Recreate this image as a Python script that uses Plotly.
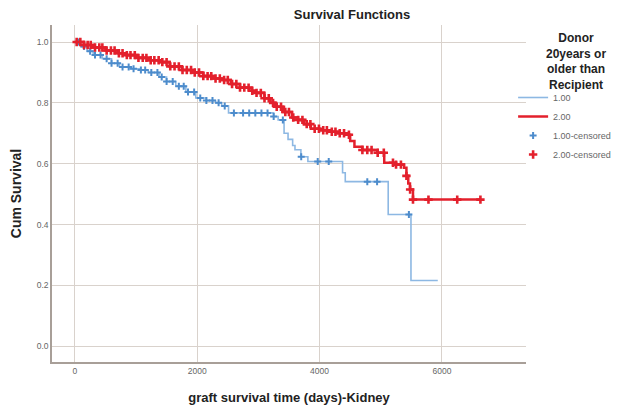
import numpy as np
import plotly.graph_objects as go

# Kaplan-Meier step data (time in days, cumulative survival)
g1_time = [0, 100, 200, 300, 450, 600, 729, 900, 1053, 1200, 1377, 1500, 1650, 1815, 1977,
           2150, 2300, 2400, 2512, 3250, 3323, 3420, 3485, 3560, 3598, 3695, 3809, 4376,
           4420, 5122, 5494, 5932]
g1_surv = [1.0, 0.985, 0.97, 0.957, 0.945, 0.93, 0.918, 0.912, 0.908, 0.9, 0.885, 0.87, 0.855,
           0.836, 0.816, 0.808, 0.80, 0.79, 0.767, 0.755, 0.744, 0.70, 0.68, 0.66, 0.646,
           0.623, 0.607, 0.57, 0.541, 0.433, 0.216, 0.216]

g2_time = [0, 150, 300, 500, 700, 843, 1000, 1200, 1377, 1550, 1750, 1912, 2100, 2250, 2399,
           2550, 2700, 2850, 2950, 3100, 3200, 3274, 3400, 3550, 3647, 3750, 3857, 4000,
           4133, 4300, 4408, 4500, 4570, 4700, 4943, 5057, 5250, 5381, 5420, 5450, 5478,
           5527, 6629]
g2_surv = [1.0, 0.99, 0.982, 0.972, 0.963, 0.957, 0.948, 0.94, 0.934, 0.92, 0.908, 0.90,
           0.888, 0.88, 0.875, 0.862, 0.85, 0.84, 0.833, 0.815, 0.80, 0.787, 0.77, 0.752,
           0.744, 0.73, 0.715, 0.71, 0.705, 0.70, 0.695, 0.675, 0.656, 0.645, 0.636, 0.603,
           0.597, 0.587, 0.56, 0.535, 0.515, 0.482, 0.482]

g1_cens = [60, 150, 250, 330, 420, 520, 600, 700, 780, 880, 960, 1080, 1150, 1250, 1350, 1420,
           1500, 1600, 1700, 1780, 1850, 1950, 2050, 2150, 2250, 2350, 2450, 2600, 2750, 2850,
           2950, 3050, 3150, 3250, 3400, 3700, 3970, 4150, 4780, 4940, 5460]
g2_cens = [30, 90, 150, 210, 260, 330, 400, 450, 520, 590, 650, 720, 780, 850, 910, 980, 1040,
           1110, 1170, 1240, 1300, 1370, 1430, 1500, 1560, 1630, 1700, 1760, 1830, 1900, 1960,
           2030, 2100, 2170, 2230, 2300, 2370, 2440, 2500, 2570, 2640, 2700, 2770, 2840, 2900,
           2970, 3040, 3100, 3170, 3240, 3300, 3370, 3440, 3500, 3570, 3650, 3720, 3790, 3850,
           3920, 3990, 4060, 4120, 4200, 4260, 4330, 4400, 4480, 4700, 4780, 4850, 4950, 5050,
           5200, 5250, 5330, 5420, 5480, 5527, 5780, 6250, 6629]

x_ticks = [0, 2000, 4000, 6000]
y_ticks = [0.0, 0.2, 0.4, 0.6, 0.8, 1.0]
y_tick_labels = ["0.0", "0.2", "0.4", "0.6", "0.8", "1.0"]

legend_title_lines = ["Donor", "20years or", "older than", "Recipient"]
names = ["1.00", "2.00", "1.00-censored", "2.00-censored"]

blue_line = "#8db8e3"
blue_mark = "#4d8ccc"
red = "#e3202c"


def surv_at(times, survs, t):
    idx = np.searchsorted(np.array(times), np.array(t), side="right") - 1
    return list(np.array(survs)[idx])


fig = go.Figure()
fig.add_trace(go.Scatter(x=g1_time, y=g1_surv, mode="lines", line_shape="hv",
                         line=dict(color=blue_line, width=1.6), name=names[0]))
fig.add_trace(go.Scatter(x=g2_time, y=g2_surv, mode="lines", line_shape="hv",
                         line=dict(color=red, width=2.5), name=names[1]))
fig.add_trace(go.Scatter(x=g1_cens, y=surv_at(g1_time, g1_surv, g1_cens), mode="markers",
                         marker=dict(symbol="cross-thin", size=5, line=dict(color=blue_mark, width=2)),
                         name=names[2]))
fig.add_trace(go.Scatter(x=g2_cens, y=surv_at(g2_time, g2_surv, g2_cens), mode="markers",
                         marker=dict(symbol="cross-thin", size=6, line=dict(color=red, width=2.6)),
                         name=names[3]))

# legend title (SPSS style, centered block of bold lines)
fig.add_annotation(text="<b>" + "<br>".join(legend_title_lines) + "</b>",
                   xref="paper", yref="paper", x=(580 - 52) / 478, y=1 - (29 - 25) / 337,
                   xanchor="center", yanchor="top", align="center", showarrow=False,
                   font=dict(size=12, color="#222"))

grid = "#d9d2cc"
axis_line = "#a89f98"
fig.update_layout(
    width=628, height=410,
    margin=dict(l=52, r=98, t=25, b=48),
    paper_bgcolor="white", plot_bgcolor="white",
    font=dict(family="Liberation Sans, Arial, sans-serif", color="#222"),
    title=dict(text="<b>Survival Functions</b>", x=352 / 628, xanchor="center", y=1 - 14 / 410,
               yanchor="middle", font=dict(size=13, color="#222")),
    legend=dict(x=(517 - 52) / 478, xanchor="left",
                y=1 - (83 - 25) / 337, yanchor="top",
                font=dict(size=9, color="#666"), tracegroupgap=0, itemwidth=30,
                bgcolor="rgba(0,0,0,0)"),
    xaxis=dict(range=[-373, 7374], tickvals=x_ticks, ticktext=[str(v) for v in x_ticks],
               showgrid=True, gridcolor=grid, gridwidth=1, zeroline=False, automargin=False,
               showline=True, linecolor=axis_line, linewidth=1.5, ticks="",
               tickfont=dict(size=8.5, color="#666"),
               title=dict(text="<b>graft survival time (days)-Kidney</b>",
                          font=dict(size=13, color="#222"), standoff=18)),
    yaxis=dict(range=[-0.052, 1.056], tickvals=y_ticks, ticktext=y_tick_labels,
               showgrid=True, gridcolor=grid, gridwidth=1, zeroline=False, automargin=False,
               showline=True, linecolor=axis_line, linewidth=1.5, ticks="",
               tickfont=dict(size=8.5, color="#666"),
               title=dict(text="<b>Cum Survival</b>", font=dict(size=14, color="#222"),
                          standoff=12)),
)

fig.write_html("out.html", config={"displayModeBar": False},
               post_script="document.body.style.margin='0px';")
